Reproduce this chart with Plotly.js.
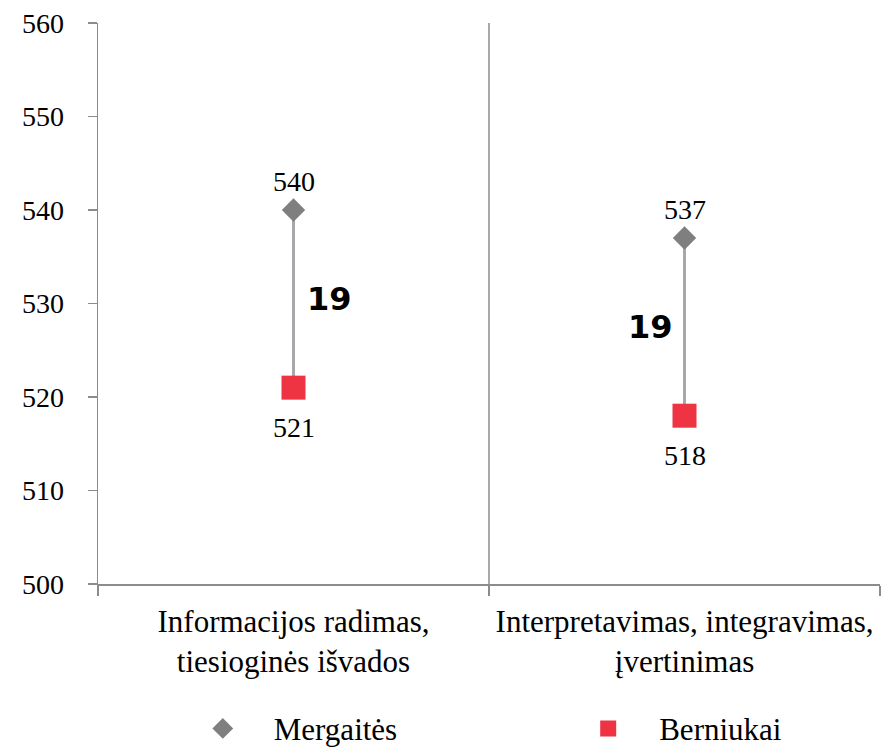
<!DOCTYPE html>
<html>
<head>
<meta charset="utf-8">
<script src="https://cdn.plot.ly/plotly-3.0.1.min.js"></script>
<style>html,body{margin:0;padding:0;background:#fff;}#chart{width:884px;height:752px;}</style>
</head>
<body>
<div id="chart"></div>
<script>
const categories = ["Informacijos radimas,<br>tiesioginės išvados", "Interpretavimas, integravimas,<br>įvertinimas"];
const girls = [540, 537];
const boys = [521, 518];
const seriesNames = ["Mergaitės", "Berniukai"];
const yTicks = [500, 510, 520, 530, 540, 550, 560];

const FAM = "Liberation Serif";
const nb = n => "\u00A0".repeat(n);

const traces = [];
categories.forEach((c, i) => {
  traces.push({
    type: "scatter", mode: "lines", x: [c, c], y: [girls[i], boys[i]],
    line: {color: "#A7A7AC", width: 3}, showlegend: false, hoverinfo: "skip"
  });
});
traces.push({
  type: "scatter", mode: "markers", name: nb(4) + seriesNames[0] + nb(24),
  x: categories, y: girls,
  marker: {symbol: "diamond", size: 18, color: "#7F7F7F"}
});
traces.push({
  type: "scatter", mode: "markers", name: nb(4) + seriesNames[1],
  x: categories, y: boys,
  marker: {symbol: "square", size: 24, color: "#EE3342"}
});

const diffShift = [36, -34];
const annotations = [];
categories.forEach((c, i) => {
  annotations.push({
    x: c, y: (girls[i] + boys[i]) / 2, xref: "x", yref: "y",
    text: "<b>" + (girls[i] - boys[i]) + "</b>", showarrow: false,
    xshift: diffShift[i], font: {family: "DejaVu Sans", size: 32, color: "#000"}
  });
  annotations.push({
    x: c, y: girls[i], xref: "x", yref: "y", text: String(girls[i]), showarrow: false,
    yshift: 29, font: {family: FAM, size: 28, color: "#000"}
  });
  annotations.push({
    x: c, y: boys[i], xref: "x", yref: "y", text: String(boys[i]), showarrow: false,
    yshift: -40, font: {family: FAM, size: 28, color: "#000"}
  });
});

const layout = {
  width: 884, height: 752,
  font: {family: FAM, color: "#000"},
  margin: {l: 98, r: 4, t: 23, b: 168, autoexpand: false},
  paper_bgcolor: "#fff", plot_bgcolor: "#fff",
  showlegend: true,
  legend: {
    orientation: "h", x: 0.134, xanchor: "left", y: -0.258, yanchor: "middle",
    font: {family: FAM, size: 31, color: "#000"}, traceorder: "normal"
  },
  xaxis: {
    type: "category", range: [-0.5, 1.5], showgrid: false, zeroline: false,
    showline: true, linecolor: "#8C8C8C", linewidth: 1.5,
    ticks: "outside", tickson: "boundaries", ticklen: 10, tickcolor: "#8C8C8C", tickwidth: 1.5,
    tickfont: {family: FAM, size: 31, color: "#000"}, ticklabelstandoff: 9
  },
  yaxis: {
    range: [500, 560], tickvals: yTicks, showgrid: false, zeroline: false,
    showline: true, linecolor: "#8C8C8C", linewidth: 1.5,
    ticks: "outside", ticklen: 9, tickcolor: "#8C8C8C", tickwidth: 1.5,
    tickfont: {family: FAM, size: 28, color: "#000"}, ticklabelstandoff: 18
  },
  shapes: [{
    type: "line", xref: "x", yref: "paper", x0: 0.5, x1: 0.5, y0: 0, y1: 1,
    line: {color: "#8C8C8C", width: 1.5}
  }],
  annotations: annotations
};

Plotly.newPlot("chart", traces, layout, {staticPlot: true});
</script>
</body>
</html>
